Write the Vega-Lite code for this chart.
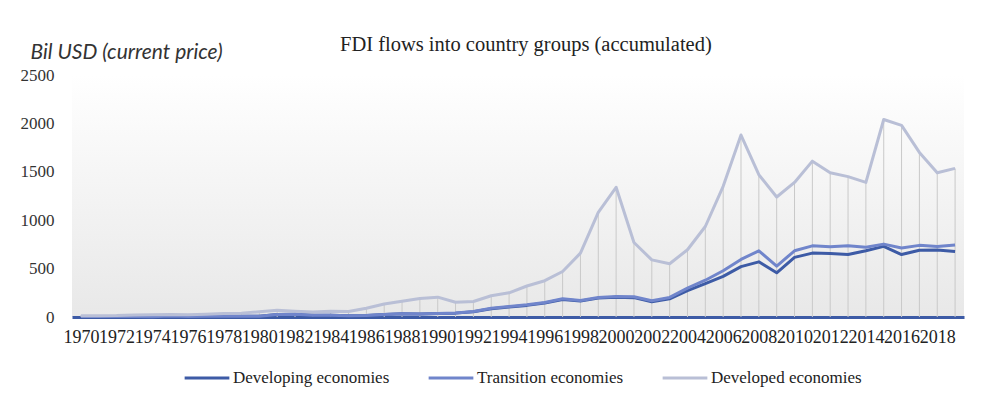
{
  "$schema": "https://vega.github.io/schema/vega-lite/v6.json",
  "width": 892,
  "height": 242,
  "autosize": {"type": "none"},
  "padding": {"left": 72, "top": 75, "right": 17, "bottom": 78},
  "background": "white",
  "config": {
    "view": {"stroke": null, "fill": {"gradient": "linear", "x1": 0, "y1": 0, "x2": 0, "y2": 1, "stops": [{"offset": 0, "color": "#ffffff"}, {"offset": 1, "color": "#e8e8e8"}]}},
    "font": "Liberation Serif"
  },
  "title": {
    "text": "FDI flows into country groups (accumulated)",
    "anchor": "start",
    "frame": "group",
    "dx": 268,
    "dy": 16,
    "font": "Liberation Serif",
    "fontSize": 20.5,
    "fontWeight": "normal",
    "color": "#222222",
    "offset": 2
  },
  "data": {
    "values": [
      {"year":1970,"group":"Developing economies","rank":1,"value":4},{"year":1970,"group":"Transition economies","rank":2,"value":0},{"year":1970,"group":"Developed economies","rank":3,"value":9},
      {"year":1971,"group":"Developing economies","rank":1,"value":5},{"year":1971,"group":"Transition economies","rank":2,"value":0},{"year":1971,"group":"Developed economies","rank":3,"value":9},
      {"year":1972,"group":"Developing economies","rank":1,"value":4},{"year":1972,"group":"Transition economies","rank":2,"value":0},{"year":1972,"group":"Developed economies","rank":3,"value":11},
      {"year":1973,"group":"Developing economies","rank":1,"value":6},{"year":1973,"group":"Transition economies","rank":2,"value":0},{"year":1973,"group":"Developed economies","rank":3,"value":15},
      {"year":1974,"group":"Developing economies","rank":1,"value":3},{"year":1974,"group":"Transition economies","rank":2,"value":0},{"year":1974,"group":"Developed economies","rank":3,"value":19},
      {"year":1975,"group":"Developing economies","rank":1,"value":10},{"year":1975,"group":"Transition economies","rank":2,"value":0},{"year":1975,"group":"Developed economies","rank":3,"value":17},
      {"year":1976,"group":"Developing economies","rank":1,"value":6},{"year":1976,"group":"Transition economies","rank":2,"value":0},{"year":1976,"group":"Developed economies","rank":3,"value":16},
      {"year":1977,"group":"Developing economies","rank":1,"value":8},{"year":1977,"group":"Transition economies","rank":2,"value":0},{"year":1977,"group":"Developed economies","rank":3,"value":21},
      {"year":1978,"group":"Developing economies","rank":1,"value":9},{"year":1978,"group":"Transition economies","rank":2,"value":0},{"year":1978,"group":"Developed economies","rank":3,"value":26},
      {"year":1979,"group":"Developing economies","rank":1,"value":9},{"year":1979,"group":"Transition economies","rank":2,"value":0},{"year":1979,"group":"Developed economies","rank":3,"value":31},
      {"year":1980,"group":"Developing economies","rank":1,"value":8},{"year":1980,"group":"Transition economies","rank":2,"value":0},{"year":1980,"group":"Developed economies","rank":3,"value":46},
      {"year":1981,"group":"Developing economies","rank":1,"value":25},{"year":1981,"group":"Transition economies","rank":2,"value":0},{"year":1981,"group":"Developed economies","rank":3,"value":44},
      {"year":1982,"group":"Developing economies","rank":1,"value":29},{"year":1982,"group":"Transition economies","rank":2,"value":0},{"year":1982,"group":"Developed economies","rank":3,"value":30},
      {"year":1983,"group":"Developing economies","rank":1,"value":19},{"year":1983,"group":"Transition economies","rank":2,"value":0},{"year":1983,"group":"Developed economies","rank":3,"value":32},
      {"year":1984,"group":"Developing economies","rank":1,"value":18},{"year":1984,"group":"Transition economies","rank":2,"value":0},{"year":1984,"group":"Developed economies","rank":3,"value":42},
      {"year":1985,"group":"Developing economies","rank":1,"value":14},{"year":1985,"group":"Transition economies","rank":2,"value":0},{"year":1985,"group":"Developed economies","rank":3,"value":42},
      {"year":1986,"group":"Developing economies","rank":1,"value":16},{"year":1986,"group":"Transition economies","rank":2,"value":0},{"year":1986,"group":"Developed economies","rank":3,"value":74},
      {"year":1987,"group":"Developing economies","rank":1,"value":25},{"year":1987,"group":"Transition economies","rank":2,"value":0},{"year":1987,"group":"Developed economies","rank":3,"value":110},
      {"year":1988,"group":"Developing economies","rank":1,"value":33},{"year":1988,"group":"Transition economies","rank":2,"value":0},{"year":1988,"group":"Developed economies","rank":3,"value":130},
      {"year":1989,"group":"Developing economies","rank":1,"value":30},{"year":1989,"group":"Transition economies","rank":2,"value":0},{"year":1989,"group":"Developed economies","rank":3,"value":162},
      {"year":1990,"group":"Developing economies","rank":1,"value":35},{"year":1990,"group":"Transition economies","rank":2,"value":0},{"year":1990,"group":"Developed economies","rank":3,"value":170},
      {"year":1991,"group":"Developing economies","rank":1,"value":40},{"year":1991,"group":"Transition economies","rank":2,"value":1},{"year":1991,"group":"Developed economies","rank":3,"value":111},
      {"year":1992,"group":"Developing economies","rank":1,"value":54},{"year":1992,"group":"Transition economies","rank":2,"value":2},{"year":1992,"group":"Developed economies","rank":3,"value":104},
      {"year":1993,"group":"Developing economies","rank":1,"value":85},{"year":1993,"group":"Transition economies","rank":2,"value":5},{"year":1993,"group":"Developed economies","rank":3,"value":130},
      {"year":1994,"group":"Developing economies","rank":1,"value":104},{"year":1994,"group":"Transition economies","rank":2,"value":4},{"year":1994,"group":"Developed economies","rank":3,"value":142},
      {"year":1995,"group":"Developing economies","rank":1,"value":120},{"year":1995,"group":"Transition economies","rank":2,"value":6},{"year":1995,"group":"Developed economies","rank":3,"value":194},
      {"year":1996,"group":"Developing economies","rank":1,"value":145},{"year":1996,"group":"Transition economies","rank":2,"value":5},{"year":1996,"group":"Developed economies","rank":3,"value":225},
      {"year":1997,"group":"Developing economies","rank":1,"value":180},{"year":1997,"group":"Transition economies","rank":2,"value":8},{"year":1997,"group":"Developed economies","rank":3,"value":282},
      {"year":1998,"group":"Developing economies","rank":1,"value":165},{"year":1998,"group":"Transition economies","rank":2,"value":5},{"year":1998,"group":"Developed economies","rank":3,"value":490},
      {"year":1999,"group":"Developing economies","rank":1,"value":195},{"year":1999,"group":"Transition economies","rank":2,"value":7},{"year":1999,"group":"Developed economies","rank":3,"value":878},
      {"year":2000,"group":"Developing economies","rank":1,"value":205},{"year":2000,"group":"Transition economies","rank":2,"value":7},{"year":2000,"group":"Developed economies","rank":3,"value":1128},
      {"year":2001,"group":"Developing economies","rank":1,"value":200},{"year":2001,"group":"Transition economies","rank":2,"value":10},{"year":2001,"group":"Developed economies","rank":3,"value":560},
      {"year":2002,"group":"Developing economies","rank":1,"value":158},{"year":2002,"group":"Transition economies","rank":2,"value":10},{"year":2002,"group":"Developed economies","rank":3,"value":422},
      {"year":2003,"group":"Developing economies","rank":1,"value":188},{"year":2003,"group":"Transition economies","rank":2,"value":14},{"year":2003,"group":"Developed economies","rank":3,"value":348},
      {"year":2004,"group":"Developing economies","rank":1,"value":272},{"year":2004,"group":"Transition economies","rank":2,"value":26},{"year":2004,"group":"Developed economies","rank":3,"value":397},
      {"year":2005,"group":"Developing economies","rank":1,"value":345},{"year":2005,"group":"Transition economies","rank":2,"value":35},{"year":2005,"group":"Developed economies","rank":3,"value":555},
      {"year":2006,"group":"Developing economies","rank":1,"value":420},{"year":2006,"group":"Transition economies","rank":2,"value":58},{"year":2006,"group":"Developed economies","rank":3,"value":872},
      {"year":2007,"group":"Developing economies","rank":1,"value":520},{"year":2007,"group":"Transition economies","rank":2,"value":75},{"year":2007,"group":"Developed economies","rank":3,"value":1285},
      {"year":2008,"group":"Developing economies","rank":1,"value":570},{"year":2008,"group":"Transition economies","rank":2,"value":114},{"year":2008,"group":"Developed economies","rank":3,"value":786},
      {"year":2009,"group":"Developing economies","rank":1,"value":457},{"year":2009,"group":"Transition economies","rank":2,"value":69},{"year":2009,"group":"Developed economies","rank":3,"value":714},
      {"year":2010,"group":"Developing economies","rank":1,"value":616},{"year":2010,"group":"Transition economies","rank":2,"value":68},{"year":2010,"group":"Developed economies","rank":3,"value":706},
      {"year":2011,"group":"Developing economies","rank":1,"value":660},{"year":2011,"group":"Transition economies","rank":2,"value":75},{"year":2011,"group":"Developed economies","rank":3,"value":875},
      {"year":2012,"group":"Developing economies","rank":1,"value":657},{"year":2012,"group":"Transition economies","rank":2,"value":69},{"year":2012,"group":"Developed economies","rank":3,"value":764},
      {"year":2013,"group":"Developing economies","rank":1,"value":645},{"year":2013,"group":"Transition economies","rank":2,"value":91},{"year":2013,"group":"Developed economies","rank":3,"value":714},
      {"year":2014,"group":"Developing economies","rank":1,"value":684},{"year":2014,"group":"Transition economies","rank":2,"value":36},{"year":2014,"group":"Developed economies","rank":3,"value":670},
      {"year":2015,"group":"Developing economies","rank":1,"value":730},{"year":2015,"group":"Transition economies","rank":2,"value":23},{"year":2015,"group":"Developed economies","rank":3,"value":1287},
      {"year":2016,"group":"Developing economies","rank":1,"value":645},{"year":2016,"group":"Transition economies","rank":2,"value":67},{"year":2016,"group":"Developed economies","rank":3,"value":1268},
      {"year":2017,"group":"Developing economies","rank":1,"value":690},{"year":2017,"group":"Transition economies","rank":2,"value":50},{"year":2017,"group":"Developed economies","rank":3,"value":960},
      {"year":2018,"group":"Developing economies","rank":1,"value":692},{"year":2018,"group":"Transition economies","rank":2,"value":36},{"year":2018,"group":"Developed economies","rank":3,"value":762},
      {"year":2019,"group":"Developing economies","rank":1,"value":676},{"year":2019,"group":"Transition economies","rank":2,"value":67},{"year":2019,"group":"Developed economies","rank":3,"value":792}
    ]
  },
  "encoding": {
    "x": {
      "field": "year",
      "type": "ordinal",
      "scale": {"type": "point", "padding": 0.5},
      "axis": {
        "title": null,
        "values": [1970,1972,1974,1976,1978,1980,1982,1984,1986,1988,1990,1992,1994,1996,1998,2000,2002,2004,2006,2008,2010,2012,2014,2016,2018],
        "labelAngle": 0,
        "labelOverlap": false,
        "labelFont": "Liberation Serif",
        "labelFontSize": 18,
        "labelColor": "#222222",
        "labelPadding": 11,
        "ticks": false,
        "domainColor": "#3d5ba6",
        "domainWidth": 3
      }
    }
  },
  "layer": [
    {
      "transform": [{"aggregate": [{"op": "sum", "field": "value", "as": "total"}], "groupby": ["year"]}],
      "mark": {"type": "rule", "color": "#c9c9c9", "strokeWidth": 1},
      "encoding": {
        "y": {"field": "total", "type": "quantitative"},
        "y2": {"datum": 0}
      }
    },
    {
      "transform": [{"window": [{"op": "sum", "field": "value", "as": "cumulative"}], "groupby": ["year"], "sort": [{"field": "rank"}]}],
      "mark": {"type": "line", "strokeWidth": 3, "strokeJoin": "round"},
      "encoding": {
        "y": {
          "field": "cumulative",
          "type": "quantitative",
          "scale": {"domain": [0, 2500], "nice": false},
          "axis": {
            "values": [0, 500, 1000, 1500, 2000, 2500],
            "format": "d",
            "grid": false,
            "ticks": false,
            "domain": false,
            "labelFont": "Liberation Serif",
            "labelFontSize": 17,
            "labelColor": "#333333",
            "labelPadding": 18,
            "title": "Bil USD (current price)",
            "titleFont": "Lato",
            "titleFontStyle": "italic",
            "titleFontWeight": "normal",
            "titleFontSize": 21,
            "titleColor": "#333333",
            "titleAngle": 0,
            "titleAlign": "left",
            "titleBaseline": "alphabetic",
            "titleX": -42,
            "titleY": -17
          }
        },
        "color": {
          "field": "group",
          "type": "nominal",
          "scale": {
            "domain": ["Developing economies", "Transition economies", "Developed economies"],
            "range": ["#3d5ba6", "#7085cb", "#b9bfd6"]
          },
          "legend": {
            "title": null,
            "orient": "none",
            "legendX": 111,
            "legendY": 279,
            "direction": "horizontal",
            "symbolType": "stroke",
            "symbolStrokeWidth": 3,
            "symbolSize": 2000,
            "labelFont": "Liberation Serif",
            "labelFontSize": 17,
            "labelColor": "#222222",
            "labelOffset": 2,
            "columnPadding": 32
          }
        },
        "detail": {"field": "group"}
      }
    }
  ]
}
